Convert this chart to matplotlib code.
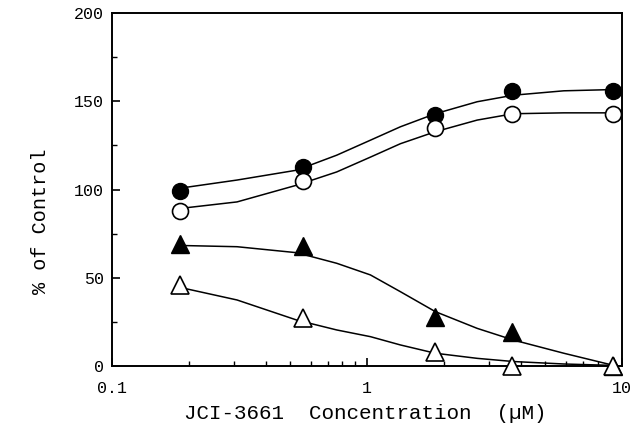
import numpy as np
import matplotlib
matplotlib.use('Agg')
import matplotlib.pyplot as plt
from matplotlib.ticker import FixedLocator, LogLocator, NullFormatter

plt.rcParams['font.family'] = ['Liberation Mono', 'DejaVu Sans Mono']

# measured points
conc = [0.185, 0.56, 1.85, 3.7, 9.2]
filled_circle = [99, 113, 142, 156, 156]
open_circle = [88, 105, 135, 143, 143]
filled_tri = [69, 68, 28, 19.5, 0]
open_tri = [46, 27, 8, 0, 0]

# fitted curves, values
curve_x = [0.185, 0.309, 0.53, 0.76, 1.03, 1.35, 1.85, 2.7, 3.74, 5.9, 9.2]
curve_fc = [100.8, 105.4, 111, 119.5, 128, 135.6, 143, 149.8, 153.5, 156, 156.7]
curve_oc = [89.3, 93, 102.5, 110, 118.4, 126, 132.8, 139.4, 143, 143.5, 143.5]
curve_ft = [68.3, 67.6, 64.2, 58.2, 51.6, 42.1, 30.8, 21.3, 14.7, 7.2, 0.4]
curve_ot = [44.5, 37.4, 26, 20.4, 16.6, 11.9, 7.2, 4.3, 2.5, 1.1, 0.3]

fig = plt.figure(figsize=(6.33, 4.26), dpi=100)
ax = fig.add_axes([0.177, 0.141, 0.806, 0.828])

for cy in [curve_fc, curve_oc, curve_ft, curve_ot]:
    ax.plot(curve_x, cy, color='black', lw=1.1, clip_on=False)

ax.plot(conc, filled_circle, 'o', color='black', ms=11.5, clip_on=False, zorder=5)
ax.plot(conc, open_circle, 'o', mfc='white', mec='black', mew=1.2, ms=11.5, clip_on=False, zorder=5)
ax.plot(conc, filled_tri, '^', color='black', ms=12.5, clip_on=False, zorder=5)
ax.plot(conc, open_tri, '^', mfc='white', mec='black', mew=1.2, ms=12.5, clip_on=False, zorder=5)

ax.set_xscale('log')
ax.set_xlim(0.1, 10)
ax.set_ylim(0, 200)
ax.set_xticks([0.1, 1, 10])
ax.set_xticklabels(['0.1', '1', '10'])
ax.xaxis.set_minor_locator(LogLocator(base=10, subs=np.arange(2, 10)))
ax.xaxis.set_minor_formatter(NullFormatter())
ax.set_yticks([0, 50, 100, 150, 200])
ax.yaxis.set_minor_locator(FixedLocator([25, 75, 125, 175]))

ax.tick_params(which='both', direction='in', labelsize=12)
ax.tick_params(which='major', length=6, width=1.2)
ax.tick_params(which='minor', length=3.5, width=1)
ax.tick_params(axis='x', pad=11)
ax.tick_params(axis='y', pad=6)

for s in ax.spines.values():
    s.set_linewidth(1.4)

ax.set_xlabel('JCI-3661  Concentration  (\u00b5M)', fontsize=15, va='center')
ax.xaxis.set_label_coords(0.496, -0.136)
ax.set_ylabel('% of Control', fontsize=14.5, va='center')
ax.yaxis.set_label_coords(-0.141, 0.41)

fig.savefig('out.png', dpi=100)
